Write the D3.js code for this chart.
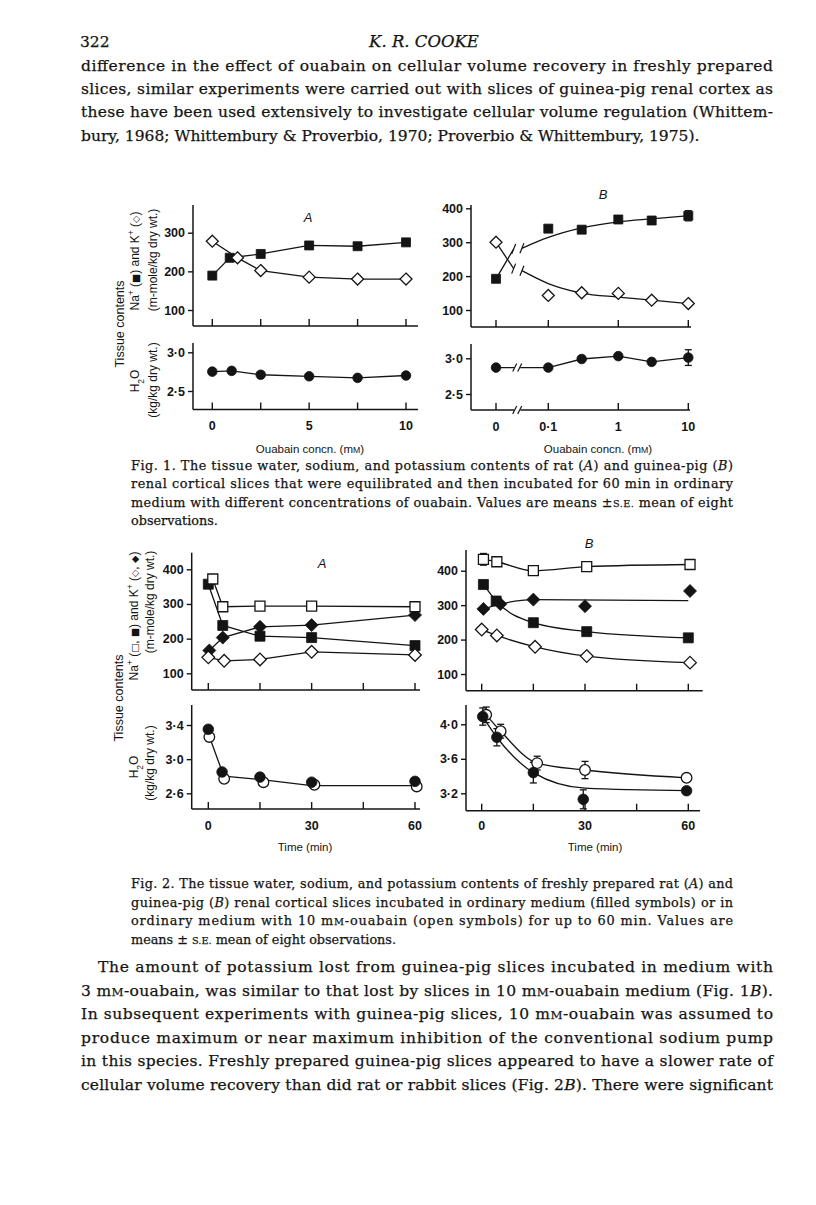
<!DOCTYPE html>
<html><head><meta charset="utf-8">
<script src="https://cdn.jsdelivr.net/npm/d3@7"></script>
<style>body{margin:0;background:#fff}</style>
</head><body><svg id="c" width="816" height="1205"></svg>
<script>
// ---------------- DATA ----------------
// Fig 1A (rat): ouabain concn (mM)
const fig1A_naConc = [0, 0.9, 2.5, 5, 7.5, 10];
const fig1A_na     = [189, 235, 245, 267, 265, 275];
const fig1A_kConc  = [0, 1.3, 2.5, 5, 7.5, 10];
const fig1A_k      = [278, 235, 202, 185, 180, 180];
const fig1A_wConc  = [0, 1, 2.5, 5, 7.5, 10];
const fig1A_w      = [2.75, 2.76, 2.71, 2.69, 2.67, 2.70];
const fig1A_xTicks = [0, 2.5, 5, 7.5, 10];
const fig1A_xLabels = ["0", "5", "10"];
const fig1A_xLabelVals = [0, 5, 10];
const fig1_topYTicksA = [100, 200, 300];
const fig1_botYTicks = [2.5, 3.0];

// Fig 1B (guinea-pig): log concn with zero
const fig1B_conc   = [0, 0.1, 0.3, 1, 3, 10];
const fig1B_na     = [192, 340, 337, 367, 364, 378];
const fig1B_naErr  = [0, 0, 0, 0, 0, 15];
const fig1B_k      = [300, 143, 151, 149, 129, 119];
const fig1B_w      = [2.87, 2.87, 2.99, 3.03, 2.95, 3.01];
const fig1B_wErr   = [0, 0, 0, 0, 0, 0.11];
const fig1B_preConc = [0, 0.032];
const fig1B_naPre  = [192, 280];
const fig1B_kPre   = [300, 222];
const fig1B_fitConc = [0.042, 0.1, 0.3, 1, 3, 10];
const fig1B_naFit  = [282, 314, 342, 360, 369, 378];
const fig1B_kFit   = [216, 178, 150, 138, 129, 119];
const fig1B_xTicks = [0, 0.1, 1, 10];
const fig1B_xLabels = ["0", "0·1", "1", "10"];
const fig1B_topYTicks = [100, 200, 300, 400];

// Fig 2 (time, min)
const fig2_xTicks = [0, 15, 30, 45, 60];
const fig2_xLabelVals = [0, 30, 60];
const fig2_xLabels = ["0", "30", "60"];
const fig2_topYTicks = [100, 200, 300, 400];
const fig2A_botYTicks = [2.6, 3.0, 3.4];
const fig2B_botYTicks = [3.2, 3.6, 4.0];

// Fig 2A (rat)
const fig2A_naO_t = [1.3, 4.2, 15, 30, 60];   const fig2A_naO = [372, 292, 294, 294, 292];
const fig2A_naF_t = [0, 4.2, 15, 30, 60];     const fig2A_naF = [357, 238, 207, 203, 180];
const fig2A_kF_t  = [0.3, 4.2, 15, 30, 60];   const fig2A_kF  = [166, 203, 234, 239, 268];
const fig2A_kO_t  = [0, 4.6, 15, 30, 60];     const fig2A_kO  = [146, 136, 140, 162, 153];
const fig2A_wF_t  = [0, 4, 15, 30, 60];       const fig2A_wF  = [3.35, 2.85, 2.79, 2.73, 2.74];
const fig2A_wO_t  = [0.3, 4.6, 16, 30.8, 60.5]; const fig2A_wO = [3.26, 2.77, 2.73, 2.70, 2.68];
const fig2A_wFit_t = [0, 4.5, 15.5, 30, 60];  const fig2A_wFit = [3.30, 2.80, 2.76, 2.69, 2.69];

// Fig 2B (guinea-pig)
const fig2B_naO_t = [0.5, 4.4, 15, 30.5, 60.5]; const fig2B_naO = [433, 426, 400, 412, 418];
const fig2B_naOErr = [17, 0, 0, 0, 0];
const fig2B_naF_t = [0.5, 4.2, 15, 30.5, 60];   const fig2B_naF = [360, 312, 249, 223, 205];
const fig2B_kF_t  = [0.5, 5.4, 15, 30, 60.5];   const fig2B_kF  = [289, 303, 316, 297, 341];
const fig2B_kFit_t = [0.5, 5.4, 15, 60];        const fig2B_kFit = [289, 303, 316, 313];
const fig2B_kO_t  = [0, 4.4, 15.5, 30.5, 60.5]; const fig2B_kO  = [229, 212, 179, 152, 133];
const fig2B_wO_t  = [1.3, 5.5, 16.1, 30, 59.5]; const fig2B_wO  = [4.11, 3.92, 3.55, 3.47, 3.38];
const fig2B_wOErr = [0.09, 0.08, 0.08, 0.10, 0];
const fig2B_wF_t  = [0.3, 4.4, 15, 29.5, 59.5]; const fig2B_wF  = [4.09, 3.85, 3.44, 3.13, 3.23];
const fig2B_wFErr = [0.10, 0.10, 0.12, 0.11, 0];
const fig2B_wFit_t = [0.3, 4.4, 15, 30, 60];    const fig2B_wFit = [4.09, 3.85, 3.44, 3.26, 3.23];

// Page text
const headerNum = "322";
const headerTitle = "*K. R. COOKE*";
const bodyTop = [
 "difference in the effect of ouabain on cellular volume recovery in freshly prepared",
 "slices, similar experiments were carried out with slices of guinea-pig renal cortex as",
 "these have been used extensively to investigate cellular volume regulation (Whittem-",
 "bury, 1968; Whittembury & Proverbio, 1970; Proverbio & Whittembury, 1975)."
];
const caption1 = [
 "Fig. 1. The tissue water, sodium, and potassium contents of rat (*A*) and guinea-pig (*B*)",
 "renal cortical slices that were equilibrated and then incubated for 60 min in ordinary",
 "medium with different concentrations of ouabain. Values are means ±{S.E.} mean of eight",
 "observations."
];
const caption2 = [
 "Fig. 2. The tissue water, sodium, and potassium contents of freshly prepared rat (*A*) and",
 "guinea-pig (*B*) renal cortical slices incubated in ordinary medium (filled symbols) or in",
 "ordinary medium with 10 m{M}-ouabain (open symbols) for up to 60 min. Values are",
 "means ± {S.E.} mean of eight observations."
];
const bodyBottom = [
 "The amount of potassium lost from guinea-pig slices incubated in medium with",
 "3 m{M}-ouabain, was similar to that lost by slices in 10 m{M}-ouabain medium (Fig. 1*B*).",
 "In subsequent experiments with guinea-pig slices, 10 m{M}-ouabain was assumed to",
 "produce maximum or near maximum inhibition of the conventional sodium pump",
 "in this species. Freshly prepared guinea-pig slices appeared to have a slower rate of",
 "cellular volume recovery than did rat or rabbit slices (Fig. 2*B*). There were significant"
];

// ---------------- DRAWING ----------------
const INK = "#141414";
const SERIF = "'DejaVu Serif', serif";
const SANS = "'Liberation Sans', Arial, 'DejaVu Sans', sans-serif";
const svg = d3.select("#c");
svg.append("rect").attr("width", 816).attr("height", 1205).attr("fill", "#fff");

function rich(g, x, y, str, size, opts = {}) {
  const t = g.append("text").attr("x", x).attr("y", y)
    .attr("font-family", opts.family || SERIF).attr("font-size", size).attr("fill", INK)
    .style("white-space", "pre");
  if (!opts.family) t.attr("stroke", INK).attr("stroke-width", 0.25);
  if (opts.anchor) t.attr("text-anchor", opts.anchor);
  str.split(/(\*[^*]+\*|\{[^}]+\})/).forEach(s => {
    if (!s) return;
    if (s[0] === "*") t.append("tspan").attr("font-style", "italic").text(s.slice(1, -1));
    else if (s[0] === "{") t.append("tspan").attr("font-size", size * 0.76).text(s.slice(1, -1));
    else t.append("tspan").text(s);
  });
  if (opts.width) t.attr("textLength", opts.width).attr("lengthAdjust", "spacing");
  return t;
}

function block(lines, x0, x1, y0, dy, size, justify, indent) {
  lines.forEach((l, i) => {
    const xs = x0 + (i === 0 ? (indent || 0) : 0);
    rich(svg, xs, y0 + i * dy, l, size, justify[i] ? { width: x1 - xs } : {});
  });
}

// Header and text
rich(svg, 80, 47, headerNum, 15.5);
rich(svg, 424, 47, headerTitle, 16.5, { anchor: "middle" });
block(bodyTop, 81, 773, 71, 23.2, 15.5, [1, 1, 1, 0]);
block(caption1, 131, 733, 470, 18.3, 12.8, [1, 1, 1, 0]);
block(caption2, 131, 733, 888, 18.5, 12.8, [1, 1, 1, 0]);
block(bodyBottom, 81, 773, 972, 23.5, 15.5, [1, 1, 1, 1, 1, 1], 17);

const fmtDot = d => d3.format(".1f")(d).replace(".", "·");

function yAxis(g, x, y, yTop, yBot, ticks, fmt) {
  g.append("line").attr("x1", x).attr("x2", x).attr("y1", yTop).attr("y2", yBot)
    .attr("stroke", INK).attr("stroke-width", 1.5);
  const a = g.append("g").attr("transform", `translate(${x},0)`)
    .call(d3.axisLeft(y).tickValues(ticks).tickSize(5).tickPadding(3).tickFormat(fmt));
  a.select(".domain").remove();
  a.selectAll(".tick line").attr("stroke", INK).attr("stroke-width", 1.4);
  a.selectAll(".tick text").attr("font-family", SANS).attr("font-size", 12.5)
    .attr("font-weight", "bold").attr("fill", INK);
}

function xAxis(g, xf, yPos, x0, x1, ticks, labelVals, labels, labelY, brk) {
  if (brk) {
    g.append("line").attr("x1", x0).attr("x2", brk - 3).attr("y1", yPos).attr("y2", yPos)
      .attr("stroke", INK).attr("stroke-width", 1.5);
    g.append("line").attr("x1", brk + 3).attr("x2", x1).attr("y1", yPos).attr("y2", yPos)
      .attr("stroke", INK).attr("stroke-width", 1.5);
    breakMark(g, brk, yPos);
  } else {
    g.append("line").attr("x1", x0).attr("x2", x1).attr("y1", yPos).attr("y2", yPos)
      .attr("stroke", INK).attr("stroke-width", 1.5);
  }
  g.selectAll(null).data(ticks).enter().append("line")
    .attr("x1", d => xf(d)).attr("x2", d => xf(d)).attr("y1", yPos).attr("y2", yPos - 7)
    .attr("stroke", INK).attr("stroke-width", 1.4);
  if (labels) {
    g.selectAll(null).data(labelVals).enter().append("text")
      .attr("x", d => xf(d)).attr("y", labelY).attr("text-anchor", "middle")
      .attr("font-family", SANS).attr("font-size", 12.5).attr("font-weight", "bold").attr("fill", INK)
      .text((d, i) => labels[i]);
  }
}

function breakMark(g, bx, by) {
  g.append("rect").attr("x", bx - 3).attr("y", by - 4).attr("width", 6).attr("height", 8).attr("fill", "#fff");
  [-2.5, 2.5].forEach(o => g.append("line")
    .attr("x1", bx + o - 2).attr("y1", by + 4).attr("x2", bx + o + 2).attr("y2", by - 4)
    .attr("stroke", INK).attr("stroke-width", 1.2));
}

function drawLine(g, xf, y, xs, ys, curve) {
  const pts = xs.map((v, i) => [v, ys[i]]);
  g.append("path").attr("d", d3.line().x(d => xf(d[0])).y(d => y(d[1])).curve(curve || d3.curveLinear)(pts))
    .attr("fill", "none").attr("stroke", INK).attr("stroke-width", 1.3);
}

function errBars(g, xf, y, xs, ys, es) {
  xs.forEach((v, i) => {
    if (!es[i]) return;
    const cx = xf(v), t = y(ys[i] + es[i]), b = y(ys[i] - es[i]);
    g.append("line").attr("x1", cx).attr("x2", cx).attr("y1", t).attr("y2", b).attr("stroke", INK).attr("stroke-width", 1.3);
    [t, b].forEach(yy => g.append("line").attr("x1", cx - 3.5).attr("x2", cx + 3.5).attr("y1", yy).attr("y2", yy)
      .attr("stroke", INK).attr("stroke-width", 1.3));
  });
}

function markers(g, xf, y, xs, ys, type, s) {
  const open = type.endsWith("O");
  let gen;
  if (type.startsWith("sq")) gen = d3.symbol(d3.symbolSquare, s * s);
  else if (type.startsWith("ci")) gen = d3.symbol(d3.symbolCircle, Math.PI * s * s);
  else gen = () => `M0,${-s}L${s},0L0,${s}L${-s},0Z`;
  g.selectAll(null).data(xs.map((v, i) => [v, ys[i]])).enter().append("path")
    .attr("d", gen).attr("transform", d => `translate(${xf(d[0])},${y(d[1])})`)
    .attr("fill", open ? "#fff" : INK).attr("stroke", INK).attr("stroke-width", open ? 1.3 : 0.8);
}

function sideLabel(x, cy, parts, size) {
  const t = svg.append("text").attr("transform", `translate(${x},${cy}) rotate(-90)`)
    .attr("text-anchor", "middle").attr("font-family", SANS).attr("font-size", size).attr("fill", INK)
    .style("white-space", "pre");
  parts.forEach(p => {
    const ts = t.append("tspan").text(p.t);
    if (p.sup) ts.attr("font-size", size * 0.7).attr("baseline-shift", "super");
    if (p.sub) ts.attr("font-size", size * 0.7).attr("baseline-shift", "sub");
    if (p.sym) ts.attr("font-family", "'DejaVu Sans', sans-serif").attr("font-size", size * 0.8);
  });
}

function letter(x, y, s) {
  svg.append("text").attr("x", x).attr("y", y).attr("text-anchor", "middle")
    .attr("font-family", SANS).attr("font-style", "italic").attr("font-size", 13).attr("fill", INK).text(s);
}
function axisTitle(x, y, str) {
  rich(svg, x, y, str, 11.5, { anchor: "middle", family: SANS });
}

// ===== FIG 1A =====
{
  const g = svg.append("g");
  const x = d3.scaleLinear().domain([0, 10]).range([212.3, 406]);
  const yT = d3.scaleLinear().domain([100, 300]).range([310, 232.7]);
  const yB = d3.scaleLinear().domain([2.5, 3.0]).range([391, 352.3]);
  yAxis(g, 193, yT, 205, 326, fig1_topYTicksA, d3.format("d"));
  xAxis(g, x, 326, 193, 418, fig1A_xTicks);
  yAxis(g, 193, yB, 343, 409.5, fig1_botYTicks, fmtDot);
  xAxis(g, x, 409.5, 193, 418, fig1A_xTicks, fig1A_xLabelVals, fig1A_xLabels, 430);
  drawLine(g, x, yT, fig1A_naConc, fig1A_na);
  drawLine(g, x, yT, fig1A_kConc, fig1A_k);
  drawLine(g, x, yB, fig1A_wConc, fig1A_w);
  markers(g, x, yT, fig1A_naConc, fig1A_na, "sqF", 9);
  markers(g, x, yT, fig1A_kConc, fig1A_k, "diO", 6);
  markers(g, x, yB, fig1A_wConc, fig1A_w, "ciF", 4.8);
  letter(308, 222, "A");
  axisTitle(310, 453, "Ouabain concn. (m{M})");
}
// ===== FIG 1B =====
{
  const g = svg.append("g");
  const xl = d3.scaleLog().domain([0.1, 10]).range([548.3, 688.3]);
  const zeroX = xl(0.1) - 52.3;
  const x = v => v === 0 ? zeroX : xl(v);
  const yT = d3.scaleLinear().domain([100, 400]).range([310, 208.3]);
  const yB = d3.scaleLinear().domain([2.5, 3.0]).range([394, 358.3]);
  const brkX = xl(0.036);
  yAxis(g, 471, yT, 205, 327, fig1B_topYTicks, d3.format("d"));
  xAxis(g, x, 327, 471, 691, fig1B_xTicks);
  yAxis(g, 471, yB, 344, 410, fig1_botYTicks, fmtDot);
  xAxis(g, x, 410, 471, 690, fig1B_xTicks, fig1B_xTicks, fig1B_xLabels, 431, brkX);
  drawLine(g, x, yT, fig1B_preConc, fig1B_naPre);
  drawLine(g, x, yT, fig1B_preConc, fig1B_kPre);
  drawLine(g, x, yT, fig1B_fitConc, fig1B_naFit, d3.curveMonotoneX);
  drawLine(g, x, yT, fig1B_fitConc, fig1B_kFit, d3.curveMonotoneX);
  // break ticks on the curves
  [[fig1B_naPre[1], fig1B_naFit[0]], [fig1B_kPre[1], fig1B_kFit[0]]].forEach(p => {
    [x(fig1B_preConc[1]), x(fig1B_fitConc[0])].forEach((bx, i) => g.append("line")
      .attr("x1", bx - 2).attr("x2", bx + 2).attr("y1", yT(p[i]) + 5).attr("y2", yT(p[i]) - 5)
      .attr("stroke", INK).attr("stroke-width", 1.2));
  });
  drawLine(g, x, yB, fig1B_conc, fig1B_w);
  breakMark(g, brkX, yB(fig1B_w[0]));
  errBars(g, x, yT, fig1B_conc, fig1B_na, fig1B_naErr);
  errBars(g, x, yB, fig1B_conc, fig1B_w, fig1B_wErr);
  markers(g, x, yT, fig1B_conc, fig1B_na, "sqF", 9);
  markers(g, x, yT, fig1B_conc, fig1B_k, "diO", 6);
  markers(g, x, yB, fig1B_conc, fig1B_w, "ciF", 4.8);
  letter(603, 199, "B");
  axisTitle(598, 453, "Ouabain concn. (m{M})");
}
sideLabel(124, 324, [{t: "Tissue contents"}], 12.5);
sideLabel(139, 261, [{t: "Na"}, {t: "+", sup: 1}, {t: " ("}, {t: "■", sym: 1}, {t: ") and K"}, {t: "+", sup: 1}, {t: " ("}, {t: "◇", sym: 1}, {t: ")"}], 12);
sideLabel(156.5, 260, [{t: "(m-mole/kg dry wt.)"}], 12);
sideLabel(138.5, 381, [{t: "H"}, {t: "2", sub: 1}, {t: "O"}], 12);
sideLabel(156.5, 380, [{t: "(kg/kg dry wt.)"}], 12);

// ===== FIG 2A =====
{
  const g = svg.append("g");
  const x = d3.scaleLinear().domain([0, 60]).range([208.3, 415]);
  const yT = d3.scaleLinear().domain([100, 400]).range([673.3, 569.3]);
  const yB = d3.scaleLinear().domain([2.6, 3.4]).range([793.3, 725]);
  yAxis(g, 191.7, yT, 552.7, 690, fig2_topYTicks, d3.format("d"));
  xAxis(g, x, 690, 191.7, 420, fig2_xTicks);
  yAxis(g, 191.7, yB, 705, 809, fig2A_botYTicks, fmtDot);
  xAxis(g, x, 809, 191.7, 420, fig2_xTicks, fig2_xLabelVals, fig2_xLabels, 830);
  drawLine(g, x, yT, fig2A_naO_t, fig2A_naO);
  drawLine(g, x, yT, fig2A_naF_t, fig2A_naF);
  drawLine(g, x, yT, fig2A_kF_t, fig2A_kF);
  drawLine(g, x, yT, fig2A_kO_t, fig2A_kO);
  drawLine(g, x, yB, fig2A_wFit_t, fig2A_wFit);
  markers(g, x, yT, fig2A_naF_t, fig2A_naF, "sqF", 10);
  markers(g, x, yT, fig2A_kF_t, fig2A_kF, "diF", 6.5);
  markers(g, x, yT, fig2A_naO_t, fig2A_naO, "sqO", 10);
  markers(g, x, yT, fig2A_kO_t, fig2A_kO, "diO", 6.3);
  markers(g, x, yB, fig2A_wO_t, fig2A_wO, "ciO", 5.3);
  markers(g, x, yB, fig2A_wF_t, fig2A_wF, "ciF", 5.3);
  letter(322, 568, "A");
  axisTitle(305, 851, "Time (min)");
}
// ===== FIG 2B =====
{
  const g = svg.append("g");
  const x = d3.scaleLinear().domain([0, 60]).range([481.7, 688.3]);
  const yT = d3.scaleLinear().domain([100, 400]).range([674, 570.7]);
  const yB = d3.scaleLinear().domain([3.2, 4.0]).range([793.3, 724.3]);
  yAxis(g, 466, yT, 550, 690.7, fig2_topYTicks, d3.format("d"));
  xAxis(g, x, 690.7, 466, 702.7, fig2_xTicks);
  yAxis(g, 466, yB, 705, 810.7, fig2B_botYTicks, fmtDot);
  xAxis(g, x, 810.7, 466, 700, fig2_xTicks, fig2_xLabelVals, fig2_xLabels, 830);
  drawLine(g, x, yT, fig2B_naO_t, fig2B_naO, d3.curveMonotoneX);
  drawLine(g, x, yT, fig2B_naF_t, fig2B_naF, d3.curveMonotoneX);
  drawLine(g, x, yT, fig2B_kFit_t, fig2B_kFit, d3.curveMonotoneX);
  drawLine(g, x, yT, fig2B_kO_t, fig2B_kO, d3.curveMonotoneX);
  drawLine(g, x, yB, fig2B_wO_t, fig2B_wO, d3.curveMonotoneX);
  drawLine(g, x, yB, fig2B_wFit_t, fig2B_wFit, d3.curveMonotoneX);
  errBars(g, x, yT, fig2B_naO_t, fig2B_naO, fig2B_naOErr);
  errBars(g, x, yB, fig2B_wO_t, fig2B_wO, fig2B_wOErr);
  errBars(g, x, yB, fig2B_wF_t, fig2B_wF, fig2B_wFErr);
  markers(g, x, yT, fig2B_naF_t, fig2B_naF, "sqF", 10);
  markers(g, x, yT, fig2B_kF_t, fig2B_kF, "diF", 6.5);
  markers(g, x, yT, fig2B_naO_t, fig2B_naO, "sqO", 10);
  markers(g, x, yT, fig2B_kO_t, fig2B_kO, "diO", 6.3);
  markers(g, x, yB, fig2B_wO_t, fig2B_wO, "ciO", 5.3);
  markers(g, x, yB, fig2B_wF_t, fig2B_wF, "ciF", 5.3);
  letter(589, 548, "B");
  axisTitle(595, 851, "Time (min)");
}
sideLabel(123, 698, [{t: "Tissue contents"}], 12.5);
sideLabel(138, 616, [{t: "Na"}, {t: "+", sup: 1}, {t: " ("}, {t: "□", sym: 1}, {t: ", "}, {t: "■", sym: 1}, {t: ") and K"}, {t: "+", sup: 1}, {t: " ("}, {t: "◇", sym: 1}, {t: ", "}, {t: "◆", sym: 1}, {t: ")"}], 12);
sideLabel(154, 602, [{t: "(m-mole/kg dry wt.)"}], 12);
sideLabel(138, 767, [{t: "H"}, {t: "2", sub: 1}, {t: "O"}], 12);
sideLabel(154, 763, [{t: "(kg/kg dry wt.)"}], 12);
</script></body></html>
